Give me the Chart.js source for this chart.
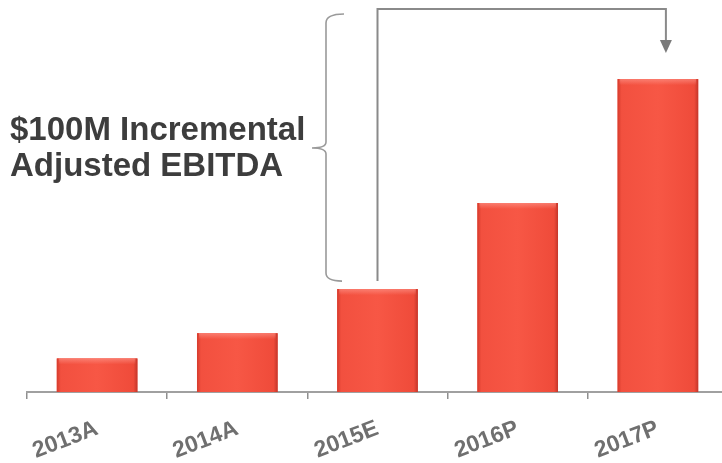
<!DOCTYPE html>
<html>
<head>
<meta charset="utf-8">
<script src="https://cdn.jsdelivr.net/npm/chart.js@4/dist/chart.umd.min.js"></script>
<style>
  html, body { margin: 0; padding: 0; background: #fff; }
  #wrap { width: 722px; height: 463px; overflow: hidden; position: relative; }
</style>
</head>
<body>
<div id="wrap"><canvas id="c" width="740" height="463"></canvas></div>
<script>
// EBITDA by year ($M)
const years = ['2013A', '2014A', '2015E', '2016P', '2017P'];
const ebitda = [16, 28, 49, 90, 149];
const calloutLines = ['$100M Incremental', 'Adjusted EBITDA'];

// bevel shading painted over each bar the library placed
const barShade = {
  id: 'barShade',
  afterDatasetsDraw(chart) {
    const ctx = chart.ctx;
    ctx.save();
    chart.getDatasetMeta(0).data.forEach(bar => {
      const l = bar.x - bar.width / 2, w = bar.width;
      const top = bar.y, h = bar.base - bar.y;
      const g = ctx.createLinearGradient(l, 0, l + w, 0);
      g.addColorStop(0, '#d63b2c');
      g.addColorStop(0.05, '#f2503f');
      g.addColorStop(0.5, '#f75745');
      g.addColorStop(0.95, '#ef4b3a');
      g.addColorStop(1, '#c4362a');
      ctx.fillStyle = g;
      ctx.fillRect(l, top, w, h);
      // light top edge
      const t = ctx.createLinearGradient(0, top, 0, top + 6);
      t.addColorStop(0, 'rgba(255,160,150,0.55)');
      t.addColorStop(1, 'rgba(255,160,150,0)');
      ctx.fillStyle = t;
      ctx.fillRect(l + 2, top, w - 4, Math.min(6, h));
    });
    ctx.restore();
  }
};

// brace, arrow and caption drawn on top of the bars
const callout = {
  id: 'callout',
  afterDraw(chart) {
    const ctx = chart.ctx;
    const x = chart.scales.x, y = chart.scales.y;
    const fromX = x.getPixelForValue(2);
    const fromY = y.getPixelForValue(ebitda[2]) - 8;
    const toX = x.getPixelForValue(4) + 8;
    const topY = 9;

    ctx.save();
    ctx.strokeStyle = '#8a8a8a';
    ctx.lineWidth = 2;
    ctx.beginPath();
    ctx.moveTo(fromX, fromY);
    ctx.lineTo(fromX, topY);
    ctx.lineTo(toX, topY);
    ctx.lineTo(toX, 42);
    ctx.stroke();
    ctx.fillStyle = '#7a7a7a';
    ctx.beginPath();
    ctx.moveTo(toX - 6, 40);
    ctx.lineTo(toX + 6, 40);
    ctx.lineTo(toX, 53);
    ctx.closePath();
    ctx.fill();

    // curly brace
    const bx = 326, bTop = 15, bBot = fromY, mid = 148;
    ctx.strokeStyle = '#9a9a9a';
    ctx.lineWidth = 1.6;
    ctx.beginPath();
    ctx.moveTo(bx + 18, bTop - 1);
    ctx.quadraticCurveTo(bx, bTop - 1, bx, bTop + 8);
    ctx.lineTo(bx, mid - 6);
    ctx.quadraticCurveTo(bx, mid, bx - 14, mid);
    ctx.quadraticCurveTo(bx, mid, bx, mid + 6);
    ctx.lineTo(bx, bBot - 8);
    ctx.quadraticCurveTo(bx, bBot, bx + 16, bBot);
    ctx.stroke();

    ctx.fillStyle = '#3d3d3d';
    ctx.font = 'bold 33px "Liberation Sans", Arial, sans-serif';
    ctx.textAlign = 'left';
    ctx.textBaseline = 'alphabetic';
    ctx.fillText(calloutLines[0], 10, 140);
    ctx.fillText(calloutLines[1], 10, 176);
    ctx.restore();
  }
};

new Chart(document.getElementById('c'), {
  type: 'bar',
  data: {
    labels: years,
    datasets: [{
      label: 'Adjusted EBITDA',
      data: ebitda,
      backgroundColor: '#f54f3e',
      borderWidth: 0,
      barPercentage: 0.575,
      categoryPercentage: 1
    }]
  },
  options: {
    responsive: false,
    animation: false,
    layout: { padding: { left: 27, right: 12, top: 14, bottom: 0 } },
    plugins: { legend: { display: false }, tooltip: { enabled: false } },
    scales: {
      x: {
        afterFit: s => { s.height = 71; },
        grid: { offset: true, drawOnChartArea: false, drawTicks: true, tickLength: 7, color: '#8f8f8f', lineWidth: 1.5 },
        border: { color: '#a0a0a0', width: 2 },
        ticks: {
          minRotation: 21, maxRotation: 21, padding: 16,
          color: '#6f6f6f',
          font: { family: '"Liberation Sans", Arial, sans-serif', size: 23, weight: 'bold' }
        }
      },
      y: { display: false, min: 0, max: 180 }
    }
  },
  plugins: [barShade, callout]
});
</script>
</body>
</html>
